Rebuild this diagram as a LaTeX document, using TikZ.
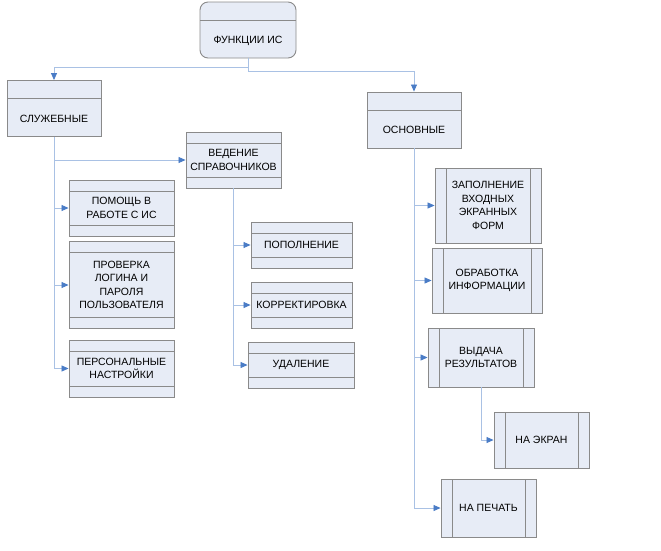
\documentclass[tikz,border=0pt]{standalone}
\usepackage{fontspec}
\setmainfont{Liberation Sans}
\usepackage{xcolor}
\usepackage{tikz}
\usetikzlibrary{arrows.meta}
\definecolor{boxfill}{HTML}{E7ECF6}
\definecolor{boxline}{HTML}{8A8A8A}
\definecolor{linkline}{HTML}{A9C1E4}
\definecolor{linkhead}{HTML}{4A7CC6}

\begin{document}
\begin{tikzpicture}[x=1pt, y=-1pt,
  box/.style={rectangle, draw=boxline, fill=boxfill, line width=0.9pt, inner sep=0pt,
    align=center, font=\fontsize{10.5}{13.5}\selectfont},
  headbox/.style={box, minimum height=56pt, text height=41.5pt, text depth=14.5pt,
    path picture={\draw[boxline, line width=0.9pt]
      ([yshift=-18pt]path picture bounding box.north west) --
      ([yshift=-18pt]path picture bounding box.north east);}},
  bandbox/.style={box,
    path picture={\draw[boxline, line width=0.9pt]
      ([yshift=-11pt]path picture bounding box.north west) --
      ([yshift=-11pt]path picture bounding box.north east)
      ([yshift=11pt]path picture bounding box.south west) --
      ([yshift=11pt]path picture bounding box.south east);}},
  sidebox/.style={box,
    path picture={\draw[boxline, line width=0.9pt]
      ([xshift=11pt]path picture bounding box.north west) --
      ([xshift=11pt]path picture bounding box.south west)
      ([xshift=-11pt]path picture bounding box.north east) --
      ([xshift=-11pt]path picture bounding box.south east);}},
  link/.style={draw=linkline, line width=0.8pt,
    -{Triangle[length=7pt, width=6pt, color=linkhead]}}]
\useasboundingbox (0,0) rectangle (661,550);

\node[headbox, minimum width=96pt, rounded corners=8pt] (funcs) at (248,30) {ФУНКЦИИ ИС};
\node[headbox, minimum width=94pt] (service) at (54,108.5) {СЛУЖЕБНЫЕ};
\node[headbox, minimum width=94pt] (main) at (414,120) {ОСНОВНЫЕ};

\node[bandbox, minimum width=95pt, minimum height=56pt] (refs) at (233.5,160) {ВЕДЕНИЕ\\СПРАВОЧНИКОВ};
\node[bandbox, minimum width=105pt, minimum height=56pt] (help) at (121.5,208) {ПОМОЩЬ В\\РАБОТЕ С ИС};
\node[bandbox, minimum width=105pt, minimum height=87pt] (login) at (121.5,285) {ПРОВЕРКА\\ЛОГИНА И\\ПАРОЛЯ\\ПОЛЬЗОВАТЕЛЯ};
\node[bandbox, minimum width=105pt, minimum height=57pt] (personal) at (121.5,368.5) {ПЕРСОНАЛЬНЫЕ\\НАСТРОЙКИ};

\node[bandbox, minimum width=101pt, minimum height=46pt] (add) at (301.5,245) {ПОПОЛНЕНИЕ};
\node[bandbox, minimum width=101pt, minimum height=46pt] (fix) at (301.5,305) {КОРРЕКТИРОВКА};
\node[bandbox, minimum width=106pt, minimum height=46pt] (del) at (301,365) {УДАЛЕНИЕ};

\node[sidebox, minimum width=106pt, minimum height=75pt] (fill) at (488,205.5) {ЗАПОЛНЕНИЕ\\ВХОДНЫХ\\ЭКРАННЫХ\\ФОРМ};
\node[sidebox, minimum width=110pt, minimum height=65pt] (proc) at (487,280.5) {ОБРАБОТКА\\ИНФОРМАЦИИ};
\node[sidebox, minimum width=106pt, minimum height=59pt] (out) at (481,357.5) {ВЫДАЧА\\РЕЗУЛЬТАТОВ};
\node[sidebox, minimum width=95pt, minimum height=56pt] (screen) at (541.5,440) {НА ЭКРАН};
\node[sidebox, minimum width=95pt, minimum height=58pt] (print) at (488.5,508) {НА ПЕЧАТЬ};

\draw[link] (funcs.south) -- ++(0,9) -| (service.north);
\draw[link] (funcs.south) -- ++(0,13) -| (main.north);

\draw[link] (service.south) |- (refs.west);
\draw[link] (service.south) |- (help.west);
\draw[link] (service.south) |- (login.west);
\draw[link] (service.south) |- (personal.west);

\draw[link] (refs.south) |- (add.west);
\draw[link] (refs.south) |- (fix.west);
\draw[link] (refs.south) |- (del.west);

\draw[link] (main.south) |- (fill.west);
\draw[link] (main.south) |- (proc.west);
\draw[link] (main.south) |- (out.west);
\draw[link] (main.south) |- (print.west);
\draw[link] (out.south) |- (screen.west);
\end{tikzpicture}
\end{document}
